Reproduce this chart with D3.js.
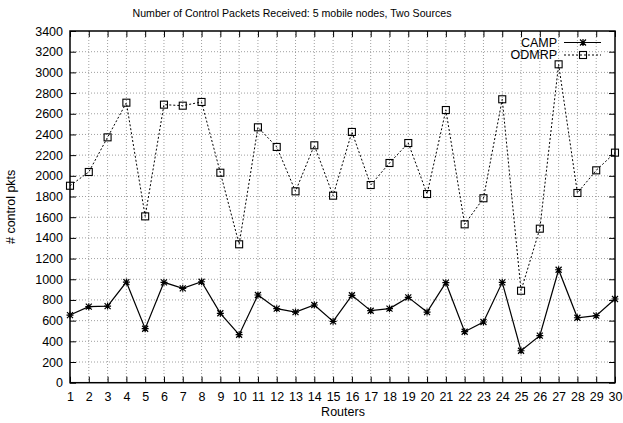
<!DOCTYPE html>
<html><head><meta charset="utf-8">
<script src="https://cdn.jsdelivr.net/npm/d3@7"></script>
<style>body{margin:0;background:#fff}svg{display:block}text{font-family:"Liberation Sans",Arial,sans-serif;fill:#000}</style>
</head><body>
<svg id="c" width="623" height="423"></svg>
<script>
const routers = d3.range(1, 31);
const camp = [654,735,741,973,522,970,912,976,671,464,848,716,683,751,593,845,696,716,825,683,967,493,587,970,309,455,1092,628,648,809];
const odmrp = [1904,2037,2372,2707,1608,2688,2678,2714,2030,1338,2469,2279,1850,2295,1808,2424,1911,2124,2317,1824,2636,1531,1783,2740,889,1489,3078,1834,2053,2224];
const yTicks = d3.range(0, 3401, 200);
const title = "Number of Control Packets Received: 5 mobile nodes, Two Sources";
const xTitle = "Routers", yTitle = "# control pkts";
const seriesNames = ["CAMP", "ODMRP"];

const L = 70, R = 615, T = 31, B = 382.7;
const svg = d3.select("#c");
const x = d3.scaleLinear().domain([1, 30]).range([L, R]);
const y = d3.scaleLinear().domain([0, 3400]).range([B, T]);

// grid
const g = svg.append("g");
g.selectAll(".gx").data(routers.slice(1, -1)).join("line")
  .attr("x1", d => x(d)).attr("x2", d => x(d)).attr("y1", T).attr("y2", B)
  .attr("stroke", "#888").attr("stroke-width", 0.8).attr("stroke-dasharray", "1,2");
g.selectAll(".gy").data(yTicks.slice(1, -1)).join("line")
  .attr("x1", L).attr("x2", R).attr("y1", d => y(d)).attr("y2", d => y(d))
  .attr("stroke", "#888").attr("stroke-width", 0.8).attr("stroke-dasharray", "1,2");

// axes (inner ticks, mirrored)
const ax = svg.append("g");
ax.append("g").attr("transform", `translate(0,${B})`)
  .call(d3.axisBottom(x).tickValues(routers).tickSizeInner(-6).tickSizeOuter(0).tickPadding(9).tickFormat(d3.format("d")))
  .call(s => { s.select(".domain").remove(); s.selectAll("text").attr("font-size", 12.5).attr("font-family", "Liberation Sans, Arial"); });
ax.append("g").attr("transform", `translate(0,${T})`)
  .call(d3.axisTop(x).tickValues(routers).tickSizeInner(-6).tickSizeOuter(0).tickFormat(""))
  .call(s => s.select(".domain").remove());
ax.append("g").attr("transform", `translate(${L},0)`)
  .call(d3.axisLeft(y).tickValues(yTicks).tickSizeInner(-6).tickSizeOuter(0).tickPadding(7).tickFormat(d3.format("d")))
  .call(s => { s.select(".domain").remove(); s.selectAll("text").attr("font-size", 12.5).attr("font-family", "Liberation Sans, Arial"); });
ax.append("g").attr("transform", `translate(${R},0)`)
  .call(d3.axisRight(y).tickValues(yTicks).tickSizeInner(-6).tickSizeOuter(0).tickFormat(""))
  .call(s => s.select(".domain").remove());
svg.append("rect").attr("x", L).attr("y", T).attr("width", R - L).attr("height", B - T)
  .attr("fill", "none").attr("stroke", "#000").attr("stroke-width", 1.5);

// lines
const line = d3.line().x((d, i) => x(routers[i])).y(d => y(d));
svg.append("path").datum(odmrp).attr("d", line).attr("fill", "none")
  .attr("stroke", "#000").attr("stroke-width", 1).attr("stroke-dasharray", "2,2");
svg.append("path").datum(camp).attr("d", line).attr("fill", "none")
  .attr("stroke", "#000").attr("stroke-width", 1.2);

function star(sel) {
  sel.append("path").attr("d", "M-3.5,0H3.5M0,-3.5V3.5M-3,-3L3,3M-3,3L3,-3")
    .attr("stroke", "#000").attr("stroke-width", 1.2).attr("fill", "none");
}
function square(sel) {
  sel.append("rect").attr("x", -3.5).attr("y", -3.5).attr("width", 7).attr("height", 7)
    .attr("fill", "none").attr("stroke", "#000").attr("stroke-width", 1.1);
}
svg.append("g").selectAll("g").data(odmrp).join("g")
  .attr("transform", (d, i) => `translate(${x(routers[i])},${y(d)})`).call(square);
svg.append("g").selectAll("g").data(camp).join("g")
  .attr("transform", (d, i) => `translate(${x(routers[i])},${y(d)})`).call(star);

// legend
const lg = svg.append("g");
[[0, 42.5, "solid"], [1, 55, "dot"]].forEach(([i, ly, st]) => {
  lg.append("text").attr("x", 557).attr("y", ly).attr("dy", "0.35em").attr("text-anchor", "end")
    .attr("font-size", 12.5).text(seriesNames[i]);
  const l = lg.append("line").attr("x1", 564).attr("x2", 601).attr("y1", ly).attr("y2", ly)
    .attr("stroke", "#000").attr("stroke-width", st === "solid" ? 1.2 : 1);
  if (st !== "solid") l.attr("stroke-dasharray", "2,2");
  const m = lg.append("g").attr("transform", `translate(583,${ly})`);
  if (i === 0) star(m); else square(m);
});

// titles
svg.append("text").attr("x", 292).attr("y", 17).attr("text-anchor", "middle").attr("font-size", 10.6).text(title);
svg.append("text").attr("x", 343).attr("y", 416).attr("text-anchor", "middle").attr("font-size", 12.5).text(xTitle);
svg.append("text").attr("transform", `translate(15,${(T + B) / 2}) rotate(-90)`).attr("text-anchor", "middle")
  .attr("font-size", 12.5).text(yTitle);
</script>
</body></html>
